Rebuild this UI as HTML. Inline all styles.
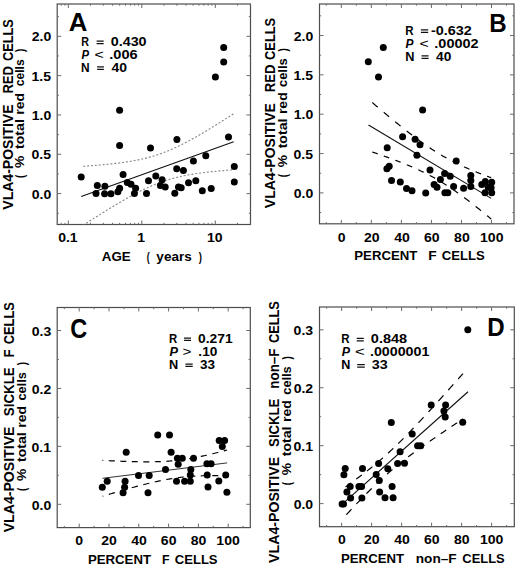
<!DOCTYPE html><html><head><meta charset="utf-8"><style>html,body{margin:0;padding:0;background:#fff;}svg{display:block;}</style></head><body>
<svg width="520" height="569" viewBox="0 0 520 569" font-family='"Liberation Sans", sans-serif'>
<rect width="520" height="569" fill="#fff"/>
<defs>
<clipPath id="clipA"><rect x="57.2" y="4.0" width="193.3" height="220.5"/></clipPath>
<clipPath id="clipB"><rect x="319.5" y="4.0" width="194.5" height="219.8"/></clipPath>
<clipPath id="clipC"><rect x="57.2" y="307.5" width="193.10000000000002" height="220.10000000000002"/></clipPath>
<clipPath id="clipD"><rect x="319.5" y="307.0" width="194.79999999999995" height="219.70000000000005"/></clipPath>
</defs>
<rect x="57.2" y="4.0" width="193.30" height="220.50" fill="none" stroke="#4d4d4d" stroke-width="1.2"/>
<path d="M57.2,193.60h4M250.5,193.60h-4M57.2,154.27h4M250.5,154.27h-4M57.2,114.95h4M250.5,114.95h-4M57.2,75.62h4M250.5,75.62h-4M57.2,36.30h4M250.5,36.30h-4M57.2,213.26h1.7M250.5,213.26h-1.7M57.2,173.94h1.7M250.5,173.94h-1.7M57.2,134.61h1.7M250.5,134.61h-1.7M57.2,95.29h1.7M250.5,95.29h-1.7M57.2,55.96h1.7M250.5,55.96h-1.7M57.2,16.64h1.7M250.5,16.64h-1.7" stroke="#6a6a6a" stroke-width="1.0" fill="none"/>
<path d="M68.30,224.5v-4M68.30,4.0v4M141.80,224.5v-4M141.80,4.0v4M215.30,224.5v-4M215.30,4.0v4M61.18,224.5v-1.7M61.18,4.0v1.7M64.94,224.5v-1.7M64.94,4.0v1.7M90.43,224.5v-1.7M90.43,4.0v1.7M103.37,224.5v-1.7M103.37,4.0v1.7M112.55,224.5v-1.7M112.55,4.0v1.7M119.67,224.5v-1.7M119.67,4.0v1.7M125.49,224.5v-1.7M125.49,4.0v1.7M130.41,224.5v-1.7M130.41,4.0v1.7M134.68,224.5v-1.7M134.68,4.0v1.7M138.44,224.5v-1.7M138.44,4.0v1.7M163.93,224.5v-1.7M163.93,4.0v1.7M176.87,224.5v-1.7M176.87,4.0v1.7M186.05,224.5v-1.7M186.05,4.0v1.7M193.17,224.5v-1.7M193.17,4.0v1.7M198.99,224.5v-1.7M198.99,4.0v1.7M203.91,224.5v-1.7M203.91,4.0v1.7M208.18,224.5v-1.7M208.18,4.0v1.7M211.94,224.5v-1.7M211.94,4.0v1.7M237.43,224.5v-1.7M237.43,4.0v1.7M250.37,224.5v-1.7M250.37,4.0v1.7" stroke="#6a6a6a" stroke-width="1.0" fill="none"/>
<rect x="319.5" y="4.0" width="194.50" height="219.80" fill="none" stroke="#4d4d4d" stroke-width="1.2"/>
<path d="M319.5,192.90h4M514.0,192.90h-4M319.5,153.55h4M514.0,153.55h-4M319.5,114.20h4M514.0,114.20h-4M319.5,74.85h4M514.0,74.85h-4M319.5,35.50h4M514.0,35.50h-4M319.5,212.58h1.7M514.0,212.58h-1.7M319.5,173.22h1.7M514.0,173.22h-1.7M319.5,133.88h1.7M514.0,133.88h-1.7M319.5,94.53h1.7M514.0,94.53h-1.7M319.5,55.18h1.7M514.0,55.18h-1.7M319.5,15.82h1.7M514.0,15.82h-1.7" stroke="#6a6a6a" stroke-width="1.0" fill="none"/>
<path d="M341.30,223.8v-4M341.30,4.0v4M371.34,223.8v-4M371.34,4.0v4M401.38,223.8v-4M401.38,4.0v4M431.42,223.8v-4M431.42,4.0v4M461.46,223.8v-4M461.46,4.0v4M491.50,223.8v-4M491.50,4.0v4M326.28,223.8v-1.7M326.28,4.0v1.7M356.32,223.8v-1.7M356.32,4.0v1.7M386.36,223.8v-1.7M386.36,4.0v1.7M416.40,223.8v-1.7M416.40,4.0v1.7M446.44,223.8v-1.7M446.44,4.0v1.7M476.48,223.8v-1.7M476.48,4.0v1.7M506.52,223.8v-1.7M506.52,4.0v1.7" stroke="#6a6a6a" stroke-width="1.0" fill="none"/>
<rect x="57.2" y="307.5" width="193.10" height="220.10" fill="none" stroke="#4d4d4d" stroke-width="1.2"/>
<path d="M57.2,504.30h4M250.3,504.30h-4M57.2,446.37h4M250.3,446.37h-4M57.2,388.44h4M250.3,388.44h-4M57.2,330.51h4M250.3,330.51h-4M57.2,475.34h1.7M250.3,475.34h-1.7M57.2,417.41h1.7M250.3,417.41h-1.7M57.2,359.48h1.7M250.3,359.48h-1.7" stroke="#6a6a6a" stroke-width="1.0" fill="none"/>
<path d="M79.20,527.6v-4M79.20,307.5v4M109.00,527.6v-4M109.00,307.5v4M138.80,527.6v-4M138.80,307.5v4M168.60,527.6v-4M168.60,307.5v4M198.40,527.6v-4M198.40,307.5v4M228.20,527.6v-4M228.20,307.5v4M64.30,527.6v-1.7M64.30,307.5v1.7M94.10,527.6v-1.7M94.10,307.5v1.7M123.90,527.6v-1.7M123.90,307.5v1.7M153.70,527.6v-1.7M153.70,307.5v1.7M183.50,527.6v-1.7M183.50,307.5v1.7M213.30,527.6v-1.7M213.30,307.5v1.7M243.10,527.6v-1.7M243.10,307.5v1.7" stroke="#6a6a6a" stroke-width="1.0" fill="none"/>
<rect x="319.5" y="307.0" width="194.80" height="219.70" fill="none" stroke="#4d4d4d" stroke-width="1.2"/>
<path d="M319.5,503.60h4M514.3,503.60h-4M319.5,445.67h4M514.3,445.67h-4M319.5,387.74h4M514.3,387.74h-4M319.5,329.81h4M514.3,329.81h-4M319.5,474.64h1.7M514.3,474.64h-1.7M319.5,416.71h1.7M514.3,416.71h-1.7M319.5,358.78h1.7M514.3,358.78h-1.7" stroke="#6a6a6a" stroke-width="1.0" fill="none"/>
<path d="M341.60,526.7v-4M341.60,307.0v4M371.60,526.7v-4M371.60,307.0v4M401.60,526.7v-4M401.60,307.0v4M431.60,526.7v-4M431.60,307.0v4M461.60,526.7v-4M461.60,307.0v4M491.60,526.7v-4M491.60,307.0v4M326.60,526.7v-1.7M326.60,307.0v1.7M356.60,526.7v-1.7M356.60,307.0v1.7M386.60,526.7v-1.7M386.60,307.0v1.7M416.60,526.7v-1.7M416.60,307.0v1.7M446.60,526.7v-1.7M446.60,307.0v1.7M476.60,526.7v-1.7M476.60,307.0v1.7M506.60,526.7v-1.7M506.60,307.0v1.7" stroke="#6a6a6a" stroke-width="1.0" fill="none"/>
<polyline points="81.20,166.43 82.47,166.34 83.74,166.25 85.01,166.16 86.28,166.07 87.55,165.98 88.83,165.89 90.10,165.79 91.37,165.70 92.64,165.60 93.91,165.50 95.18,165.39 96.45,165.29 97.72,165.18 98.99,165.07 100.26,164.96 101.53,164.85 102.80,164.73 104.08,164.61 105.35,164.49 106.62,164.37 107.89,164.24 109.16,164.11 110.43,163.98 111.70,163.84 112.97,163.70 114.24,163.55 115.51,163.41 116.78,163.25 118.05,163.10 119.33,162.94 120.60,162.77 121.87,162.60 123.14,162.43 124.41,162.25 125.68,162.06 126.95,161.87 128.22,161.67 129.49,161.47 130.76,161.26 132.03,161.04 133.30,160.81 134.57,160.58 135.85,160.34 137.12,160.09 138.39,159.84 139.66,159.57 140.93,159.30 142.20,159.02 143.47,158.72 144.74,158.42 146.01,158.11 147.28,157.79 148.55,157.45 149.82,157.11 151.10,156.75 152.37,156.38 153.64,156.00 154.91,155.61 156.18,155.21 157.45,154.79 158.72,154.37 159.99,153.93 161.26,153.47 162.53,153.01 163.80,152.53 165.07,152.04 166.35,151.54 167.62,151.03 168.89,150.50 170.16,149.96 171.43,149.41 172.70,148.85 173.97,148.28 175.24,147.70 176.51,147.10 177.78,146.50 179.05,145.88 180.32,145.26 181.60,144.63 182.87,143.98 184.14,143.33 185.41,142.67 186.68,142.00 187.95,141.33 189.22,140.64 190.49,139.95 191.76,139.26 193.03,138.55 194.30,137.84 195.57,137.12 196.85,136.40 198.12,135.67 199.39,134.94 200.66,134.20 201.93,133.45 203.20,132.70 204.47,131.95 205.74,131.19 207.01,130.43 208.28,129.67 209.55,128.90 210.82,128.12 212.10,127.35 213.37,126.57 214.64,125.78 215.91,125.00 217.18,124.21 218.45,123.41 219.72,122.62 220.99,121.82 222.26,121.02 223.53,120.22 224.80,119.42 226.07,118.61 227.35,117.80 228.62,116.99 229.89,116.18 231.16,115.36 232.43,114.55 233.70,113.73" fill="none" stroke="#858585" stroke-width="1.1" stroke-dasharray="2 1.9" stroke-dashoffset="1.9" clip-path="url(#clipA)"/>
<polyline points="81.20,226.57 82.47,225.75 83.74,224.92 85.01,224.10 86.28,223.28 87.55,222.46 88.83,221.64 90.10,220.82 91.37,220.00 92.64,219.19 93.91,218.38 95.18,217.57 96.45,216.76 97.72,215.96 98.99,215.15 100.26,214.35 101.53,213.55 102.80,212.76 104.08,211.96 105.35,211.17 106.62,210.38 107.89,209.60 109.16,208.82 110.43,208.04 111.70,207.26 112.97,206.49 114.24,205.72 115.51,204.96 116.78,204.20 118.05,203.44 119.33,202.69 120.60,201.94 121.87,201.20 123.14,200.46 124.41,199.73 125.68,199.00 126.95,198.28 128.22,197.57 129.49,196.86 130.76,196.16 132.03,195.46 133.30,194.78 134.57,194.10 135.85,193.42 137.12,192.76 138.39,192.10 139.66,191.45 140.93,190.82 142.20,190.19 143.47,189.57 144.74,188.96 146.01,188.36 147.28,187.77 148.55,187.19 149.82,186.62 151.10,186.06 152.37,185.52 153.64,184.99 154.91,184.46 156.18,183.95 157.45,183.46 158.72,182.97 159.99,182.50 161.26,182.04 162.53,181.59 163.80,181.16 165.07,180.74 166.35,180.33 167.62,179.93 168.89,179.54 170.16,179.17 171.43,178.80 172.70,178.45 173.97,178.11 175.24,177.78 176.51,177.46 177.78,177.16 179.05,176.86 180.32,176.57 181.60,176.29 182.87,176.02 184.14,175.76 185.41,175.51 186.68,175.26 187.95,175.03 189.22,174.80 190.49,174.58 191.76,174.36 193.03,174.15 194.30,173.95 195.57,173.76 196.85,173.57 198.12,173.38 199.39,173.20 200.66,173.03 201.93,172.86 203.20,172.70 204.47,172.54 205.74,172.39 207.01,172.24 208.28,172.09 209.55,171.95 210.82,171.81 212.10,171.67 213.37,171.54 214.64,171.41 215.91,171.28 217.18,171.16 218.45,171.04 219.72,170.92 220.99,170.81 222.26,170.69 223.53,170.58 224.80,170.48 226.07,170.37 227.35,170.27 228.62,170.17 229.89,170.07 231.16,169.97 232.43,169.87 233.70,169.78" fill="none" stroke="#858585" stroke-width="1.1" stroke-dasharray="2 1.9" stroke-dashoffset="1.9" clip-path="url(#clipA)"/>
<line x1="81.2" y1="196.50" x2="233.7" y2="141.75" stroke="#111" stroke-width="1.15"/>
<path d="M372.30,102.56 373.29,103.40 374.28,104.25 375.27,105.10 376.26,105.94 377.25,106.78 377.68,107.14M383.76,112.28 384.19,112.64 385.18,113.47 386.17,114.30 387.16,115.13 388.15,115.95 389.14,116.77M395.22,121.78 396.08,122.48 397.07,123.29 398.06,124.09 399.05,124.90 400.04,125.69 400.60,126.14M406.68,130.97 406.98,131.20 407.97,131.98 408.96,132.75 409.95,133.51 410.94,134.28 411.93,135.03 412.07,135.14M418.15,139.69 418.87,140.22 419.86,140.94 420.85,141.66 421.84,142.37 422.83,143.08 423.54,143.58M429.62,147.76 429.77,147.86 430.76,148.52 431.75,149.17 432.74,149.82 433.73,150.46 434.72,151.09 435.01,151.27M441.10,154.99 441.66,155.32 442.65,155.90 443.64,156.47 444.63,157.03 445.62,157.59 446.49,158.07M452.58,161.32 453.55,161.81 454.54,162.31 455.53,162.81 456.52,163.30 457.51,163.78 457.97,164.00M464.07,166.84 464.45,167.01 465.44,167.45 466.43,167.89 467.42,168.32 468.41,168.75 469.40,169.18 469.46,169.20M475.56,171.73 476.34,172.05 477.33,172.44 478.32,172.84 479.31,173.23 480.30,173.62 480.95,173.87M487.05,176.19 487.24,176.26 488.23,176.63 489.22,177.00 490.21,177.36 491.20,177.72" fill="none" stroke="#000" stroke-width="1.2" clip-path="url(#clipB)"/>
<path d="M372.30,151.99 373.29,152.33 374.28,152.66 375.27,153.00 376.26,153.35 377.25,153.69 377.70,153.84M383.79,155.99 384.19,156.13 385.18,156.48 386.17,156.84 387.16,157.19 388.15,157.55 389.14,157.91 389.19,157.93M395.29,160.20 396.08,160.50 397.07,160.88 398.06,161.26 399.05,161.64 400.04,162.03 400.68,162.28M406.78,164.73 406.98,164.82 407.97,165.23 408.96,165.64 409.95,166.06 410.94,166.49 411.93,166.91 412.17,167.02M418.27,169.74 418.87,170.02 419.86,170.48 420.85,170.95 421.84,171.42 422.83,171.90 423.66,172.31M429.75,175.41 429.77,175.42 430.76,175.94 431.75,176.48 432.74,177.02 433.73,177.56 434.72,178.11 435.14,178.35M441.23,181.92 441.66,182.17 442.65,182.78 443.64,183.40 444.63,184.02 445.62,184.65 446.61,185.28 446.62,185.29M452.71,189.33 453.55,189.90 454.54,190.59 455.53,191.28 456.52,191.98 457.51,192.68 458.10,193.10M464.18,197.55 464.45,197.74 465.44,198.49 466.43,199.24 467.42,199.99 468.41,200.74 469.40,201.50 469.56,201.63M475.65,206.38 476.34,206.93 477.33,207.71 478.32,208.51 479.31,209.30 480.30,210.10 481.03,210.68M487.11,215.64 487.24,215.75 488.23,216.56 489.22,217.38 490.21,218.20 491.20,219.02" fill="none" stroke="#000" stroke-width="1.2" clip-path="url(#clipB)"/>
<line x1="368.5" y1="125.00" x2="491.2" y2="198.37" stroke="#111" stroke-width="1.15"/>
<path d="M102.50,460.36 103.30,460.40M108.80,460.68 109.77,460.73 110.81,460.78 111.84,460.83 112.88,460.88 113.92,460.93 114.80,460.97M120.30,461.21 121.19,461.24 122.23,461.28 123.27,461.32 124.31,461.36 125.34,461.40 126.30,461.43M131.80,461.60 132.61,461.63 133.65,461.65 134.69,461.68 135.73,461.70 136.76,461.72 137.80,461.74M143.30,461.81 144.03,461.82 145.07,461.83 146.11,461.83 147.15,461.83 148.19,461.83 149.22,461.82 149.30,461.82M154.80,461.75 155.45,461.73 156.49,461.71 157.53,461.68 158.57,461.65 159.61,461.61 160.65,461.57 160.80,461.56M166.30,461.28 166.88,461.25 167.91,461.18 168.95,461.10 169.99,461.02 171.03,460.94 172.07,460.85 172.30,460.83M177.80,460.28 178.30,460.22 179.34,460.10 180.38,459.97 181.41,459.84 182.45,459.70 183.49,459.56 183.80,459.52M189.30,458.67 189.72,458.60 190.76,458.42 191.80,458.24 192.83,458.05 193.87,457.86 194.91,457.67 195.30,457.59M200.80,456.48 201.14,456.41 202.18,456.19 203.22,455.96 204.26,455.73 205.30,455.50 206.33,455.26 206.80,455.15M212.30,453.84 212.56,453.78 213.60,453.52 214.64,453.26 215.68,453.00 216.72,452.74 217.75,452.47 218.30,452.33M223.80,450.88 223.98,450.83 225.02,450.55 226.06,450.27 227.10,449.99" fill="none" stroke="#000" stroke-width="1.2" clip-path="url(#clipC)"/>
<path d="M102.50,496.24 103.30,496.00M108.80,494.36 109.77,494.07 110.81,493.77 111.84,493.46 112.88,493.15 113.92,492.85 114.80,492.59M120.30,490.99 121.19,490.74 122.23,490.44 123.27,490.14 124.31,489.85 125.34,489.55 126.30,489.28M131.80,487.75 132.61,487.53 133.65,487.25 134.69,486.97 135.73,486.69 136.76,486.41 137.80,486.13M143.30,484.70 144.03,484.51 145.07,484.25 146.11,483.99 147.15,483.73 148.19,483.48 149.22,483.23 149.30,483.21M154.80,481.92 155.45,481.77 156.49,481.54 157.53,481.32 158.57,481.09 159.61,480.87 160.65,480.66 160.80,480.62M166.30,479.55 166.88,479.44 167.91,479.25 168.95,479.07 169.99,478.89 171.03,478.72 172.07,478.55 172.30,478.51M177.80,477.71 178.30,477.64 179.34,477.50 180.38,477.38 181.41,477.25 182.45,477.13 183.49,477.02 183.80,476.99M189.30,476.47 189.72,476.44 190.76,476.36 191.80,476.29 192.83,476.22 193.87,476.15 194.91,476.09 195.30,476.07M200.80,475.82 201.14,475.80 202.18,475.77 203.22,475.74 204.26,475.71 205.30,475.69 206.33,475.67 206.80,475.66M212.30,475.61 212.56,475.61 213.60,475.61 214.64,475.62 215.68,475.62 216.72,475.63 217.75,475.64 218.30,475.64M223.80,475.73 223.98,475.74 225.02,475.76 226.06,475.78 227.10,475.81" fill="none" stroke="#000" stroke-width="1.2" clip-path="url(#clipC)"/>
<line x1="102.5" y1="478.30" x2="227.1" y2="462.90" stroke="#333" stroke-width="1.0"/>
<path d="M345.51,486.91 345.55,486.88 346.56,486.17 347.57,485.45 348.59,484.72 349.60,484.00 350.61,483.27 351.00,482.99M356.29,479.13 356.69,478.84 357.70,478.09 358.71,477.34 359.73,476.58 360.74,475.82 361.75,475.05M367.00,471.01 367.82,470.36 368.84,469.56 369.85,468.75 370.86,467.94 371.88,467.13 372.40,466.70M377.59,462.40 377.95,462.10 378.96,461.24 379.98,460.37 380.99,459.49 382.00,458.61 382.92,457.81M388.03,453.22 388.07,453.18 389.09,452.25 390.10,451.31 391.11,450.37 392.12,449.42 393.14,448.46 393.28,448.33M398.32,443.47 399.21,442.59 400.23,441.59 401.24,440.59 402.25,439.57 403.26,438.56 403.49,438.33M408.47,433.26 409.34,432.36 410.35,431.31 411.36,430.26 412.38,429.20 413.39,428.14 413.59,427.93M418.51,422.72 419.46,421.71 420.48,420.62 421.49,419.54 422.50,418.45 423.51,417.36 423.59,417.27M428.49,411.96 428.57,411.87 429.59,410.76 430.60,409.66 431.61,408.55 432.62,407.44 433.55,406.43M438.42,401.06 438.70,400.75 439.71,399.63 440.73,398.50 441.74,397.38 442.75,396.26 443.46,395.47M448.32,390.05 448.82,389.48 449.84,388.35 450.85,387.22 451.86,386.09 452.88,384.95 453.34,384.43M458.19,378.98 458.95,378.13 459.96,376.99 460.98,375.85 461.99,374.71 463.00,373.56" fill="none" stroke="#000" stroke-width="1.2" clip-path="url(#clipD)"/>
<path d="M346.40,514.66 346.56,514.48 347.57,513.39 348.59,512.30 349.60,511.22 350.61,510.14 351.48,509.21M356.40,504.00 356.69,503.70 357.70,502.64 358.71,501.59 359.73,500.53 360.74,499.49 361.52,498.67M366.50,493.61 366.81,493.29 367.82,492.27 368.84,491.26 369.85,490.26 370.86,489.26 371.67,488.46M376.71,483.60 376.94,483.39 377.95,482.43 378.96,481.48 379.98,480.54 380.99,479.60 381.96,478.71M387.07,474.12 388.07,473.24 389.09,472.36 390.10,471.49 391.11,470.62 392.12,469.76 392.40,469.53M397.59,465.23 398.20,464.74 399.21,463.92 400.23,463.11 401.24,462.30 402.25,461.50 402.99,460.92M408.24,456.88 408.32,456.81 409.34,456.05 410.35,455.29 411.36,454.53 412.38,453.77 413.39,453.02 413.70,452.80M418.99,448.94 419.46,448.60 420.48,447.87 421.49,447.14 422.50,446.42 423.51,445.70 424.48,445.02M429.80,441.29 430.60,440.73 431.61,440.03 432.62,439.33 433.64,438.63 434.65,437.93 435.31,437.48M440.65,433.84 440.73,433.78 441.74,433.10 442.75,432.41 443.76,431.73 444.77,431.04 445.79,430.36 446.18,430.10M451.53,426.51 451.86,426.29 452.88,425.61 453.89,424.94 454.90,424.26 455.91,423.59 456.93,422.92 457.07,422.82M462.42,419.28 463.00,418.89" fill="none" stroke="#000" stroke-width="1.2" clip-path="url(#clipD)"/>
<line x1="344.8" y1="501.90" x2="468.0" y2="391.76" stroke="#111" stroke-width="1.15"/>
<g fill="#000"><circle cx="119.6" cy="110.3" r="3.5"/><circle cx="119.6" cy="145.5" r="3.5"/><circle cx="150.5" cy="148" r="3.5"/><circle cx="81.2" cy="177" r="3.5"/><circle cx="123.1" cy="174.4" r="3.5"/><circle cx="97.3" cy="185.6" r="3.5"/><circle cx="104.9" cy="186.3" r="3.5"/><circle cx="96" cy="193.4" r="3.5"/><circle cx="104.6" cy="193.7" r="3.5"/><circle cx="110.9" cy="193.7" r="3.5"/><circle cx="117.9" cy="191.7" r="3.5"/><circle cx="119.6" cy="188.3" r="3.5"/><circle cx="127.3" cy="182.5" r="3.5"/><circle cx="131" cy="184.2" r="3.5"/><circle cx="135.6" cy="188.3" r="3.5"/><circle cx="134.4" cy="193.4" r="3.5"/><circle cx="148.5" cy="180.8" r="3.5"/><circle cx="146.5" cy="193.4" r="3.5"/><circle cx="155.8" cy="175.9" r="3.5"/><circle cx="162.1" cy="179.8" r="3.5"/><circle cx="160.4" cy="185.6" r="3.5"/><circle cx="165.2" cy="187.1" r="3.5"/><circle cx="174.8" cy="193.2" r="3.5"/><circle cx="176.7" cy="168.8" r="3.5"/><circle cx="178.5" cy="186.9" r="3.5"/><circle cx="181.2" cy="187.7" r="3.5"/><circle cx="205.8" cy="155.7" r="3.5"/><circle cx="193.4" cy="161.1" r="3.5"/><circle cx="183.4" cy="170.5" r="3.5"/><circle cx="234.3" cy="166.5" r="3.5"/><circle cx="234.3" cy="182" r="3.5"/><circle cx="195.8" cy="180.8" r="3.5"/><circle cx="188.5" cy="182.8" r="3.5"/><circle cx="202.3" cy="190.8" r="3.5"/><circle cx="211.2" cy="188.5" r="3.5"/><circle cx="176.9" cy="139.4" r="3.5"/><circle cx="228.5" cy="136.9" r="3.5"/><circle cx="223.7" cy="47.5" r="3.5"/><circle cx="223.7" cy="61.9" r="3.5"/><circle cx="215.4" cy="77.1" r="3.5"/></g>
<g fill="#000"><circle cx="383.3" cy="47.6" r="3.5"/><circle cx="368.3" cy="61.7" r="3.5"/><circle cx="378.5" cy="77.1" r="3.5"/><circle cx="422.6" cy="110.1" r="3.5"/><circle cx="402.6" cy="136.8" r="3.5"/><circle cx="415.1" cy="139.3" r="3.5"/><circle cx="420" cy="144.7" r="3.5"/><circle cx="387.2" cy="147.8" r="3.5"/><circle cx="416.9" cy="155.3" r="3.5"/><circle cx="386.9" cy="168.8" r="3.5"/><circle cx="389.2" cy="166.2" r="3.5"/><circle cx="430" cy="170" r="3.5"/><circle cx="391.5" cy="180.5" r="3.5"/><circle cx="400.3" cy="182" r="3.5"/><circle cx="406.5" cy="188.5" r="3.5"/><circle cx="412" cy="190.8" r="3.5"/><circle cx="425.7" cy="193.1" r="3.5"/><circle cx="434.1" cy="184.6" r="3.5"/><circle cx="437" cy="187.3" r="3.5"/><circle cx="456.2" cy="160.9" r="3.5"/><circle cx="444.6" cy="173.6" r="3.5"/><circle cx="450.2" cy="176.2" r="3.5"/><circle cx="440.4" cy="179.6" r="3.5"/><circle cx="453.6" cy="186.5" r="3.5"/><circle cx="444.9" cy="192.8" r="3.5"/><circle cx="447.8" cy="192.8" r="3.5"/><circle cx="463.6" cy="188.2" r="3.5"/><circle cx="470.8" cy="175.4" r="3.5"/><circle cx="470.8" cy="180.4" r="3.5"/><circle cx="470.8" cy="186.5" r="3.5"/><circle cx="481.8" cy="184.6" r="3.5"/><circle cx="485.3" cy="181.4" r="3.5"/><circle cx="491.7" cy="182.2" r="3.5"/><circle cx="491.1" cy="187.8" r="3.5"/><circle cx="485" cy="192.8" r="3.5"/><circle cx="491.7" cy="192.8" r="3.5"/><circle cx="488.2" cy="187.3" r="3.5"/></g>
<g fill="#000"><circle cx="102.3" cy="487.2" r="3.5"/><circle cx="107.2" cy="481.2" r="3.5"/><circle cx="123.1" cy="492.8" r="3.5"/><circle cx="124.6" cy="487.2" r="3.5"/><circle cx="125.1" cy="481.2" r="3.5"/><circle cx="126.2" cy="452.3" r="3.5"/><circle cx="138.5" cy="475.4" r="3.5"/><circle cx="148" cy="492.8" r="3.5"/><circle cx="149.2" cy="475.4" r="3.5"/><circle cx="157.7" cy="434.9" r="3.5"/><circle cx="165.5" cy="469.5" r="3.5"/><circle cx="169.5" cy="434.9" r="3.5"/><circle cx="171.1" cy="452.3" r="3.5"/><circle cx="177.4" cy="458.2" r="3.5"/><circle cx="182.3" cy="458.2" r="3.5"/><circle cx="178.2" cy="464.3" r="3.5"/><circle cx="176.5" cy="481.2" r="3.5"/><circle cx="184.6" cy="481.2" r="3.5"/><circle cx="190.3" cy="481.2" r="3.5"/><circle cx="190.3" cy="474.9" r="3.5"/><circle cx="190.8" cy="469.5" r="3.5"/><circle cx="193.5" cy="458.2" r="3.5"/><circle cx="206.9" cy="463.8" r="3.5"/><circle cx="211.1" cy="463.8" r="3.5"/><circle cx="207.2" cy="475.1" r="3.5"/><circle cx="208" cy="486.9" r="3.5"/><circle cx="218.8" cy="481.1" r="3.5"/><circle cx="225.7" cy="474.9" r="3.5"/><circle cx="226.9" cy="492.3" r="3.5"/><circle cx="219.2" cy="440.6" r="3.5"/><circle cx="224.6" cy="440.6" r="3.5"/><circle cx="222.3" cy="446.4" r="3.5"/></g>
<g fill="#000"><circle cx="342.1" cy="503.9" r="3.5"/><circle cx="343.5" cy="503.9" r="3.5"/><circle cx="345.2" cy="468.5" r="3.5"/><circle cx="343.9" cy="474.7" r="3.5"/><circle cx="346.9" cy="492.0" r="3.5"/><circle cx="350.2" cy="486.5" r="3.5"/><circle cx="350.6" cy="497.9" r="3.5"/><circle cx="358.9" cy="486.5" r="3.5"/><circle cx="361.6" cy="486.5" r="3.5"/><circle cx="362.5" cy="468.6" r="3.5"/><circle cx="361.9" cy="497.9" r="3.5"/><circle cx="378.6" cy="463.4" r="3.5"/><circle cx="376.2" cy="474.5" r="3.5"/><circle cx="379.3" cy="480.6" r="3.5"/><circle cx="379.6" cy="492.0" r="3.5"/><circle cx="385.0" cy="497.8" r="3.5"/><circle cx="387.8" cy="468.8" r="3.5"/><circle cx="392.1" cy="486.4" r="3.5"/><circle cx="393.1" cy="497.8" r="3.5"/><circle cx="391.3" cy="422.5" r="3.5"/><circle cx="397.6" cy="463.4" r="3.5"/><circle cx="404.5" cy="463.3" r="3.5"/><circle cx="400.1" cy="451.7" r="3.5"/><circle cx="412.2" cy="434.1" r="3.5"/><circle cx="417.6" cy="445.8" r="3.5"/><circle cx="420.7" cy="445.8" r="3.5"/><circle cx="431.2" cy="405.1" r="3.5"/><circle cx="445.6" cy="405.1" r="3.5"/><circle cx="443.9" cy="411.0" r="3.5"/><circle cx="445.2" cy="417.1" r="3.5"/><circle cx="462.7" cy="422.3" r="3.5"/><circle cx="467.8" cy="329.8" r="3.5"/></g>
<text x="31.77" y="41.30" font-size="12.2" font-weight="bold" font-style="normal" textLength="19.50" lengthAdjust="spacingAndGlyphs" fill="#000" style="white-space:pre">2.0</text>
<text x="31.59" y="80.62" font-size="12.2" font-weight="bold" font-style="normal" textLength="19.50" lengthAdjust="spacingAndGlyphs" fill="#000" style="white-space:pre">1.5</text>
<text x="31.77" y="119.95" font-size="12.2" font-weight="bold" font-style="normal" textLength="19.50" lengthAdjust="spacingAndGlyphs" fill="#000" style="white-space:pre">1.0</text>
<text x="31.59" y="159.27" font-size="12.2" font-weight="bold" font-style="normal" textLength="19.50" lengthAdjust="spacingAndGlyphs" fill="#000" style="white-space:pre">0.5</text>
<text x="31.77" y="198.60" font-size="12.2" font-weight="bold" font-style="normal" textLength="19.50" lengthAdjust="spacingAndGlyphs" fill="#000" style="white-space:pre">0.0</text>
<text x="293.77" y="40.50" font-size="12.2" font-weight="bold" font-style="normal" textLength="19.50" lengthAdjust="spacingAndGlyphs" fill="#000" style="white-space:pre">2.0</text>
<text x="293.59" y="79.85" font-size="12.2" font-weight="bold" font-style="normal" textLength="19.50" lengthAdjust="spacingAndGlyphs" fill="#000" style="white-space:pre">1.5</text>
<text x="293.77" y="119.20" font-size="12.2" font-weight="bold" font-style="normal" textLength="19.50" lengthAdjust="spacingAndGlyphs" fill="#000" style="white-space:pre">1.0</text>
<text x="293.59" y="158.55" font-size="12.2" font-weight="bold" font-style="normal" textLength="19.50" lengthAdjust="spacingAndGlyphs" fill="#000" style="white-space:pre">0.5</text>
<text x="293.77" y="197.90" font-size="12.2" font-weight="bold" font-style="normal" textLength="19.50" lengthAdjust="spacingAndGlyphs" fill="#000" style="white-space:pre">0.0</text>
<text x="31.70" y="335.71" font-size="12.2" font-weight="bold" font-style="normal" textLength="19.50" lengthAdjust="spacingAndGlyphs" fill="#000" style="white-space:pre">0.3</text>
<text x="31.76" y="393.64" font-size="12.2" font-weight="bold" font-style="normal" textLength="19.50" lengthAdjust="spacingAndGlyphs" fill="#000" style="white-space:pre">0.2</text>
<text x="31.59" y="451.57" font-size="12.2" font-weight="bold" font-style="normal" textLength="19.50" lengthAdjust="spacingAndGlyphs" fill="#000" style="white-space:pre">0.1</text>
<text x="31.77" y="509.50" font-size="12.2" font-weight="bold" font-style="normal" textLength="19.50" lengthAdjust="spacingAndGlyphs" fill="#000" style="white-space:pre">0.0</text>
<text x="293.60" y="335.11" font-size="12.2" font-weight="bold" font-style="normal" textLength="19.50" lengthAdjust="spacingAndGlyphs" fill="#000" style="white-space:pre">0.3</text>
<text x="293.66" y="393.04" font-size="12.2" font-weight="bold" font-style="normal" textLength="19.50" lengthAdjust="spacingAndGlyphs" fill="#000" style="white-space:pre">0.2</text>
<text x="293.49" y="450.97" font-size="12.2" font-weight="bold" font-style="normal" textLength="19.50" lengthAdjust="spacingAndGlyphs" fill="#000" style="white-space:pre">0.1</text>
<text x="293.67" y="508.90" font-size="12.2" font-weight="bold" font-style="normal" textLength="19.50" lengthAdjust="spacingAndGlyphs" fill="#000" style="white-space:pre">0.0</text>
<text x="58.17" y="242.30" font-size="12.2" font-weight="bold" font-style="normal" textLength="19.50" lengthAdjust="spacingAndGlyphs" fill="#000" style="white-space:pre">0.1</text>
<text x="137.35" y="242.30" font-size="12.2" font-weight="bold" font-style="normal" textLength="7.80" lengthAdjust="spacingAndGlyphs" fill="#000" style="white-space:pre">1</text>
<text x="207.04" y="242.30" font-size="12.2" font-weight="bold" font-style="normal" textLength="15.61" lengthAdjust="spacingAndGlyphs" fill="#000" style="white-space:pre">10</text>
<text x="337.81" y="241.60" font-size="12.2" font-weight="bold" font-style="normal" textLength="7.80" lengthAdjust="spacingAndGlyphs" fill="#000" style="white-space:pre">0</text>
<text x="75.31" y="545.20" font-size="12.2" font-weight="bold" font-style="normal" textLength="7.80" lengthAdjust="spacingAndGlyphs" fill="#000" style="white-space:pre">0</text>
<text x="337.91" y="543.90" font-size="12.2" font-weight="bold" font-style="normal" textLength="7.80" lengthAdjust="spacingAndGlyphs" fill="#000" style="white-space:pre">0</text>
<text x="363.98" y="241.60" font-size="12.2" font-weight="bold" font-style="normal" textLength="15.61" lengthAdjust="spacingAndGlyphs" fill="#000" style="white-space:pre">20</text>
<text x="101.24" y="545.20" font-size="12.2" font-weight="bold" font-style="normal" textLength="15.61" lengthAdjust="spacingAndGlyphs" fill="#000" style="white-space:pre">20</text>
<text x="364.04" y="543.90" font-size="12.2" font-weight="bold" font-style="normal" textLength="15.61" lengthAdjust="spacingAndGlyphs" fill="#000" style="white-space:pre">20</text>
<text x="394.16" y="241.60" font-size="12.2" font-weight="bold" font-style="normal" textLength="15.61" lengthAdjust="spacingAndGlyphs" fill="#000" style="white-space:pre">40</text>
<text x="131.18" y="545.20" font-size="12.2" font-weight="bold" font-style="normal" textLength="15.61" lengthAdjust="spacingAndGlyphs" fill="#000" style="white-space:pre">40</text>
<text x="394.18" y="543.90" font-size="12.2" font-weight="bold" font-style="normal" textLength="15.61" lengthAdjust="spacingAndGlyphs" fill="#000" style="white-space:pre">40</text>
<text x="424.05" y="241.60" font-size="12.2" font-weight="bold" font-style="normal" textLength="15.61" lengthAdjust="spacingAndGlyphs" fill="#000" style="white-space:pre">60</text>
<text x="160.83" y="545.20" font-size="12.2" font-weight="bold" font-style="normal" textLength="15.61" lengthAdjust="spacingAndGlyphs" fill="#000" style="white-space:pre">60</text>
<text x="424.03" y="543.90" font-size="12.2" font-weight="bold" font-style="normal" textLength="15.61" lengthAdjust="spacingAndGlyphs" fill="#000" style="white-space:pre">60</text>
<text x="454.12" y="241.60" font-size="12.2" font-weight="bold" font-style="normal" textLength="15.61" lengthAdjust="spacingAndGlyphs" fill="#000" style="white-space:pre">80</text>
<text x="190.66" y="545.20" font-size="12.2" font-weight="bold" font-style="normal" textLength="15.61" lengthAdjust="spacingAndGlyphs" fill="#000" style="white-space:pre">80</text>
<text x="454.06" y="543.90" font-size="12.2" font-weight="bold" font-style="normal" textLength="15.61" lengthAdjust="spacingAndGlyphs" fill="#000" style="white-space:pre">80</text>
<text x="480.04" y="241.60" font-size="12.2" font-weight="bold" font-style="normal" textLength="23.41" lengthAdjust="spacingAndGlyphs" fill="#000" style="white-space:pre">100</text>
<text x="216.34" y="545.20" font-size="12.2" font-weight="bold" font-style="normal" textLength="23.41" lengthAdjust="spacingAndGlyphs" fill="#000" style="white-space:pre">100</text>
<text x="479.94" y="543.90" font-size="12.2" font-weight="bold" font-style="normal" textLength="23.41" lengthAdjust="spacingAndGlyphs" fill="#000" style="white-space:pre">100</text>
<text x="101.87" y="261.00" font-size="12.4" font-weight="bold" font-style="normal" textLength="28.85" lengthAdjust="spacingAndGlyphs" fill="#000" style="white-space:pre">AGE</text>
<text x="146.76" y="261.00" font-size="12.4" font-weight="bold" font-style="normal" textLength="2.95" lengthAdjust="spacingAndGlyphs" fill="#000" style="white-space:pre">(</text>
<text x="156.39" y="261.00" font-size="12.4" font-weight="bold" font-style="normal" textLength="35.26" lengthAdjust="spacingAndGlyphs" fill="#000" style="white-space:pre">years</text>
<text x="198.69" y="261.00" font-size="12.4" font-weight="bold" font-style="normal" textLength="3.19" lengthAdjust="spacingAndGlyphs" fill="#000" style="white-space:pre">)</text>
<text x="354.32" y="260.40" font-size="12.4" font-weight="bold" font-style="normal" textLength="63.02" lengthAdjust="spacingAndGlyphs" fill="#000" style="white-space:pre">PERCENT</text>
<text x="428.28" y="260.40" font-size="12.4" font-weight="bold" font-style="normal" textLength="8.43" lengthAdjust="spacingAndGlyphs" fill="#000" style="white-space:pre">F</text>
<text x="441.76" y="260.40" font-size="12.4" font-weight="bold" font-style="normal" textLength="42.95" lengthAdjust="spacingAndGlyphs" fill="#000" style="white-space:pre">CELLS</text>
<text x="87.92" y="563.80" font-size="12.4" font-weight="bold" font-style="normal" textLength="63.13" lengthAdjust="spacingAndGlyphs" fill="#000" style="white-space:pre">PERCENT</text>
<text x="161.97" y="563.80" font-size="12.4" font-weight="bold" font-style="normal" textLength="7.59" lengthAdjust="spacingAndGlyphs" fill="#000" style="white-space:pre">F</text>
<text x="174.76" y="563.80" font-size="12.4" font-weight="bold" font-style="normal" textLength="42.85" lengthAdjust="spacingAndGlyphs" fill="#000" style="white-space:pre">CELLS</text>
<text x="341.02" y="563.20" font-size="12.4" font-weight="bold" font-style="normal" textLength="63.02" lengthAdjust="spacingAndGlyphs" fill="#000" style="white-space:pre">PERCENT</text>
<text x="415.80" y="563.20" font-size="12.4" font-weight="bold" font-style="normal" textLength="40.90" lengthAdjust="spacingAndGlyphs" fill="#000" style="white-space:pre">non–F</text>
<text x="462.37" y="563.20" font-size="12.4" font-weight="bold" font-style="normal" textLength="42.33" lengthAdjust="spacingAndGlyphs" fill="#000" style="white-space:pre">CELLS</text>
<text transform="translate(12.70,209.60) rotate(-90)" x="-0.10" y="0" font-size="14.4" font-weight="bold" textLength="105.24" lengthAdjust="spacingAndGlyphs" style="white-space:pre">VLA4-POSITIVE</text>
<text transform="translate(12.70,92.70) rotate(-90)" x="-0.88" y="0" font-size="14.4" font-weight="bold" textLength="27.62" lengthAdjust="spacingAndGlyphs" style="white-space:pre">RED</text>
<text transform="translate(12.70,60.50) rotate(-90)" x="-0.52" y="0" font-size="14.4" font-weight="bold" textLength="41.92" lengthAdjust="spacingAndGlyphs" style="white-space:pre">CELLS</text>
<text transform="translate(274.50,208.10) rotate(-90)" x="-0.10" y="0" font-size="14.4" font-weight="bold" textLength="105.14" lengthAdjust="spacingAndGlyphs" style="white-space:pre">VLA4-POSITIVE</text>
<text transform="translate(274.50,91.40) rotate(-90)" x="-0.88" y="0" font-size="14.4" font-weight="bold" textLength="27.73" lengthAdjust="spacingAndGlyphs" style="white-space:pre">RED</text>
<text transform="translate(274.50,59.40) rotate(-90)" x="-0.53" y="0" font-size="14.4" font-weight="bold" textLength="42.03" lengthAdjust="spacingAndGlyphs" style="white-space:pre">CELLS</text>
<text transform="translate(14.10,532.20) rotate(-90)" x="-0.10" y="0" font-size="14.4" font-weight="bold" textLength="105.75" lengthAdjust="spacingAndGlyphs" style="white-space:pre">VLA4-POSITIVE</text>
<text transform="translate(14.10,415.80) rotate(-90)" x="-0.38" y="0" font-size="14.4" font-weight="bold" textLength="48.91" lengthAdjust="spacingAndGlyphs" style="white-space:pre">SICKLE</text>
<text transform="translate(14.10,356.70) rotate(-90)" x="-0.88" y="0" font-size="14.4" font-weight="bold" textLength="8.07" lengthAdjust="spacingAndGlyphs" style="white-space:pre">F</text>
<text transform="translate(14.10,343.70) rotate(-90)" x="-0.53" y="0" font-size="14.4" font-weight="bold" textLength="42.03" lengthAdjust="spacingAndGlyphs" style="white-space:pre">CELLS</text>
<text transform="translate(279.30,562.80) rotate(-90)" x="-0.10" y="0" font-size="14.4" font-weight="bold" textLength="106.05" lengthAdjust="spacingAndGlyphs" style="white-space:pre">VLA4-POSITIVE</text>
<text transform="translate(279.30,446.50) rotate(-90)" x="-0.38" y="0" font-size="14.4" font-weight="bold" textLength="48.29" lengthAdjust="spacingAndGlyphs" style="white-space:pre">SICKLE</text>
<text transform="translate(279.30,387.80) rotate(-90)" x="-0.88" y="0" font-size="14.4" font-weight="bold" textLength="40.17" lengthAdjust="spacingAndGlyphs" style="white-space:pre">non–F</text>
<text transform="translate(279.30,342.60) rotate(-90)" x="-0.53" y="0" font-size="14.4" font-weight="bold" textLength="42.03" lengthAdjust="spacingAndGlyphs" style="white-space:pre">CELLS</text>
<text transform="translate(23.70,177.40) rotate(-90)" x="-0.49" y="0" font-size="12.4" font-weight="bold" textLength="3.30" lengthAdjust="spacingAndGlyphs" style="white-space:pre">(</text>
<text transform="translate(23.70,167.60) rotate(-90)" x="-0.34" y="0" font-size="12.4" font-weight="bold" textLength="12.31" lengthAdjust="spacingAndGlyphs" style="white-space:pre">%</text>
<text transform="translate(23.70,148.80) rotate(-90)" x="-0.17" y="0" font-size="12.4" font-weight="bold" textLength="29.77" lengthAdjust="spacingAndGlyphs" style="white-space:pre">total</text>
<text transform="translate(23.70,113.80) rotate(-90)" x="-0.93" y="0" font-size="12.4" font-weight="bold" textLength="21.85" lengthAdjust="spacingAndGlyphs" style="white-space:pre">red</text>
<text transform="translate(23.70,85.80) rotate(-90)" x="-0.47" y="0" font-size="12.4" font-weight="bold" textLength="26.97" lengthAdjust="spacingAndGlyphs" style="white-space:pre">cells</text>
<text transform="translate(23.70,52.10) rotate(-90)" x="-0.01" y="0" font-size="12.4" font-weight="bold" textLength="3.19" lengthAdjust="spacingAndGlyphs" style="white-space:pre">)</text>
<text transform="translate(286.90,176.80) rotate(-90)" x="-0.49" y="0" font-size="12.4" font-weight="bold" textLength="3.30" lengthAdjust="spacingAndGlyphs" style="white-space:pre">(</text>
<text transform="translate(286.90,167.00) rotate(-90)" x="-0.34" y="0" font-size="12.4" font-weight="bold" textLength="12.31" lengthAdjust="spacingAndGlyphs" style="white-space:pre">%</text>
<text transform="translate(286.90,148.20) rotate(-90)" x="-0.17" y="0" font-size="12.4" font-weight="bold" textLength="29.77" lengthAdjust="spacingAndGlyphs" style="white-space:pre">total</text>
<text transform="translate(286.90,113.20) rotate(-90)" x="-0.93" y="0" font-size="12.4" font-weight="bold" textLength="21.85" lengthAdjust="spacingAndGlyphs" style="white-space:pre">red</text>
<text transform="translate(286.90,86.50) rotate(-90)" x="-0.50" y="0" font-size="12.4" font-weight="bold" textLength="28.73" lengthAdjust="spacingAndGlyphs" style="white-space:pre">cells</text>
<text transform="translate(286.90,51.50) rotate(-90)" x="-0.01" y="0" font-size="12.4" font-weight="bold" textLength="3.19" lengthAdjust="spacingAndGlyphs" style="white-space:pre">)</text>
<text transform="translate(25.60,490.50) rotate(-90)" x="-0.49" y="0" font-size="12.4" font-weight="bold" textLength="3.30" lengthAdjust="spacingAndGlyphs" style="white-space:pre">(</text>
<text transform="translate(25.60,480.70) rotate(-90)" x="-0.34" y="0" font-size="12.4" font-weight="bold" textLength="12.31" lengthAdjust="spacingAndGlyphs" style="white-space:pre">%</text>
<text transform="translate(25.60,461.90) rotate(-90)" x="-0.17" y="0" font-size="12.4" font-weight="bold" textLength="29.77" lengthAdjust="spacingAndGlyphs" style="white-space:pre">total</text>
<text transform="translate(25.60,426.90) rotate(-90)" x="-0.93" y="0" font-size="12.4" font-weight="bold" textLength="21.85" lengthAdjust="spacingAndGlyphs" style="white-space:pre">red</text>
<text transform="translate(25.60,400.10) rotate(-90)" x="-0.50" y="0" font-size="12.4" font-weight="bold" textLength="28.42" lengthAdjust="spacingAndGlyphs" style="white-space:pre">cells</text>
<text transform="translate(25.60,365.20) rotate(-90)" x="-0.01" y="0" font-size="12.4" font-weight="bold" textLength="3.19" lengthAdjust="spacingAndGlyphs" style="white-space:pre">)</text>
<text transform="translate(290.90,484.70) rotate(-90)" x="-0.49" y="0" font-size="12.4" font-weight="bold" textLength="3.30" lengthAdjust="spacingAndGlyphs" style="white-space:pre">(</text>
<text transform="translate(290.90,474.90) rotate(-90)" x="-0.34" y="0" font-size="12.4" font-weight="bold" textLength="12.31" lengthAdjust="spacingAndGlyphs" style="white-space:pre">%</text>
<text transform="translate(290.90,456.10) rotate(-90)" x="-0.17" y="0" font-size="12.4" font-weight="bold" textLength="29.77" lengthAdjust="spacingAndGlyphs" style="white-space:pre">total</text>
<text transform="translate(290.90,421.10) rotate(-90)" x="-0.93" y="0" font-size="12.4" font-weight="bold" textLength="21.85" lengthAdjust="spacingAndGlyphs" style="white-space:pre">red</text>
<text transform="translate(290.90,394.20) rotate(-90)" x="-0.50" y="0" font-size="12.4" font-weight="bold" textLength="28.42" lengthAdjust="spacingAndGlyphs" style="white-space:pre">cells</text>
<text transform="translate(290.90,359.40) rotate(-90)" x="-0.01" y="0" font-size="12.4" font-weight="bold" textLength="3.19" lengthAdjust="spacingAndGlyphs" style="white-space:pre">)</text>
<text x="68.76" y="31.20" font-size="26.3" font-weight="bold" font-style="normal" textLength="18.62" lengthAdjust="spacingAndGlyphs" fill="#000" style="white-space:pre">A</text>
<text x="489.29" y="31.70" font-size="26.3" font-weight="bold" font-style="normal" textLength="17.41" lengthAdjust="spacingAndGlyphs" fill="#000" style="white-space:pre">B</text>
<text x="70.13" y="337.90" font-size="27.6" font-weight="bold" font-style="normal" textLength="17.01" lengthAdjust="spacingAndGlyphs" fill="#000" style="white-space:pre">C</text>
<text x="487.19" y="336.00" font-size="25.8" font-weight="bold" font-style="normal" textLength="17.43" lengthAdjust="spacingAndGlyphs" fill="#000" style="white-space:pre">D</text>
<text x="81.18" y="45.90" font-size="12.2" font-weight="bold" font-style="normal" textLength="7.74" lengthAdjust="spacingAndGlyphs" fill="#000" style="white-space:pre">R</text>
<path d="M96.60,41.15H103.70M96.60,43.55H103.70" stroke="#111" stroke-width="1.25"/>
<text x="110.73" y="45.90" font-size="12.2" font-weight="bold" font-style="normal" textLength="35.85" lengthAdjust="spacingAndGlyphs" fill="#000" style="white-space:pre">0.430</text>
<text x="81.60" y="59.00" font-size="12.2" font-weight="bold" font-style="italic" textLength="7.58" lengthAdjust="spacingAndGlyphs" fill="#000" style="white-space:pre">P</text>
<text x="94.62" y="59.00" font-size="12.2" font-weight="normal" font-style="normal" textLength="9.26" lengthAdjust="spacingAndGlyphs" fill="#000" style="white-space:pre"><</text>
<text x="109.31" y="59.00" font-size="12.2" font-weight="bold" font-style="normal" textLength="28.42" lengthAdjust="spacingAndGlyphs" fill="#000" style="white-space:pre">.006</text>
<text x="81.10" y="71.70" font-size="12.2" font-weight="bold" font-style="normal" textLength="8.60" lengthAdjust="spacingAndGlyphs" fill="#000" style="white-space:pre">N</text>
<path d="M97.10,66.95H103.90M97.10,69.35H103.90" stroke="#111" stroke-width="1.25"/>
<text x="111.59" y="71.70" font-size="12.2" font-weight="bold" font-style="normal" textLength="15.48" lengthAdjust="spacingAndGlyphs" fill="#000" style="white-space:pre">40</text>
<text x="405.23" y="34.60" font-size="12.2" font-weight="bold" font-style="normal" textLength="8.31" lengthAdjust="spacingAndGlyphs" fill="#000" style="white-space:pre">R</text>
<path d="M420.90,29.85H428.20M420.90,32.25H428.20" stroke="#111" stroke-width="1.25"/>
<text x="430.94" y="34.60" font-size="12.2" font-weight="bold" font-style="normal" textLength="40.84" lengthAdjust="spacingAndGlyphs" fill="#000" style="white-space:pre">-0.632</text>
<text x="405.49" y="47.80" font-size="12.2" font-weight="bold" font-style="italic" textLength="7.99" lengthAdjust="spacingAndGlyphs" fill="#000" style="white-space:pre">P</text>
<text x="419.42" y="47.80" font-size="12.2" font-weight="normal" font-style="normal" textLength="9.26" lengthAdjust="spacingAndGlyphs" fill="#000" style="white-space:pre"><</text>
<text x="434.32" y="47.80" font-size="12.2" font-weight="bold" font-style="normal" textLength="44.26" lengthAdjust="spacingAndGlyphs" fill="#000" style="white-space:pre">.00002</text>
<text x="405.15" y="60.70" font-size="12.2" font-weight="bold" font-style="normal" textLength="9.21" lengthAdjust="spacingAndGlyphs" fill="#000" style="white-space:pre">N</text>
<path d="M421.50,55.95H428.60M421.50,58.35H428.60" stroke="#111" stroke-width="1.25"/>
<text x="436.09" y="60.70" font-size="12.2" font-weight="bold" font-style="normal" textLength="15.27" lengthAdjust="spacingAndGlyphs" fill="#000" style="white-space:pre">40</text>
<text x="169.04" y="342.80" font-size="12.2" font-weight="bold" font-style="normal" textLength="8.19" lengthAdjust="spacingAndGlyphs" fill="#000" style="white-space:pre">R</text>
<path d="M184.00,338.05H191.00M184.00,340.45H191.00" stroke="#111" stroke-width="1.25"/>
<text x="198.05" y="342.80" font-size="12.2" font-weight="bold" font-style="normal" textLength="34.53" lengthAdjust="spacingAndGlyphs" fill="#000" style="white-space:pre">0.271</text>
<text x="169.48" y="355.90" font-size="12.2" font-weight="bold" font-style="italic" textLength="8.51" lengthAdjust="spacingAndGlyphs" fill="#000" style="white-space:pre">P</text>
<text x="182.45" y="355.90" font-size="12.2" font-weight="normal" font-style="normal" textLength="8.89" lengthAdjust="spacingAndGlyphs" fill="#000" style="white-space:pre">></text>
<text x="198.37" y="355.90" font-size="12.2" font-weight="bold" font-style="normal" textLength="18.99" lengthAdjust="spacingAndGlyphs" fill="#000" style="white-space:pre">.10</text>
<text x="168.95" y="368.80" font-size="12.2" font-weight="bold" font-style="normal" textLength="9.21" lengthAdjust="spacingAndGlyphs" fill="#000" style="white-space:pre">N</text>
<path d="M185.40,364.05H192.70M185.40,366.45H192.70" stroke="#111" stroke-width="1.25"/>
<text x="199.99" y="368.80" font-size="12.2" font-weight="bold" font-style="normal" textLength="15.00" lengthAdjust="spacingAndGlyphs" fill="#000" style="white-space:pre">33</text>
<text x="341.33" y="343.20" font-size="12.2" font-weight="bold" font-style="normal" textLength="8.31" lengthAdjust="spacingAndGlyphs" fill="#000" style="white-space:pre">R</text>
<path d="M356.70,338.45H363.80M356.70,340.85H363.80" stroke="#111" stroke-width="1.25"/>
<text x="370.83" y="343.20" font-size="12.2" font-weight="bold" font-style="normal" textLength="36.32" lengthAdjust="spacingAndGlyphs" fill="#000" style="white-space:pre">0.848</text>
<text x="341.78" y="356.40" font-size="12.2" font-weight="bold" font-style="italic" textLength="8.30" lengthAdjust="spacingAndGlyphs" fill="#000" style="white-space:pre">P</text>
<text x="355.08" y="356.40" font-size="12.2" font-weight="normal" font-style="normal" textLength="9.74" lengthAdjust="spacingAndGlyphs" fill="#000" style="white-space:pre"><</text>
<text x="369.93" y="356.40" font-size="12.2" font-weight="bold" font-style="normal" textLength="59.46" lengthAdjust="spacingAndGlyphs" fill="#000" style="white-space:pre">.0000001</text>
<text x="341.26" y="369.40" font-size="12.2" font-weight="bold" font-style="normal" textLength="9.09" lengthAdjust="spacingAndGlyphs" fill="#000" style="white-space:pre">N</text>
<path d="M357.20,364.65H364.80M357.20,367.05H364.80" stroke="#111" stroke-width="1.25"/>
<text x="371.67" y="369.40" font-size="12.2" font-weight="bold" font-style="normal" textLength="15.95" lengthAdjust="spacingAndGlyphs" fill="#000" style="white-space:pre">33</text>
</svg></body></html>
